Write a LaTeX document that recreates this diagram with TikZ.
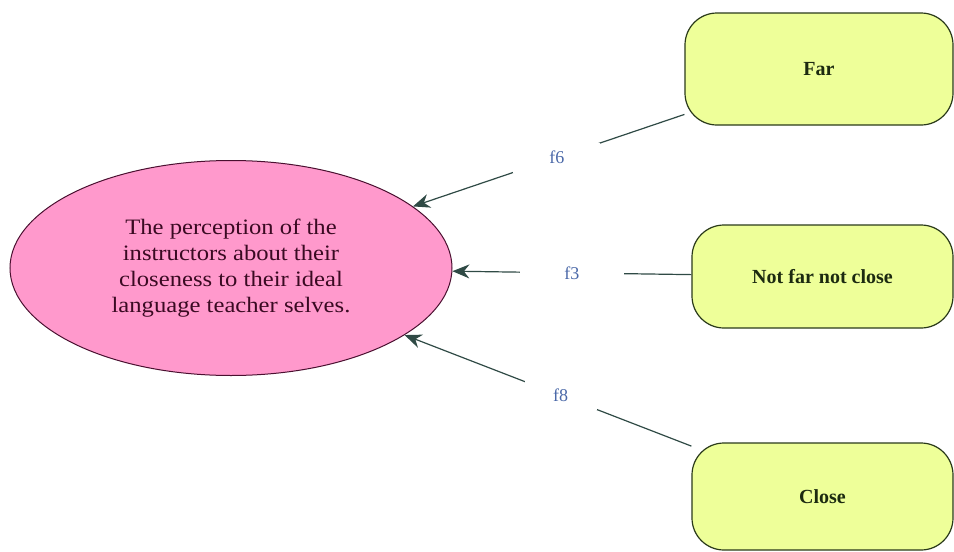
\documentclass[tikz,border=0pt]{standalone}
\usepackage{fontspec}
\setmainfont{Liberation Serif}
\usetikzlibrary{shapes.geometric,arrows.meta}
\definecolor{pinkfill}{HTML}{FF99CC}
\definecolor{pinkline}{HTML}{4A1030}
\definecolor{ellText}{HTML}{3A0A22}
\definecolor{boxfill}{HTML}{EEFF99}
\definecolor{boxline}{HTML}{2A3A1A}
\definecolor{boxtext}{HTML}{1C2A10}
\definecolor{conn}{HTML}{2F4A45}
\definecolor{lbl}{HTML}{4A68A8}
\tikzset{
  choicebox/.style={rectangle, rounded corners=32pt, draw=boxline, line width=1.2pt,
    fill=boxfill, font=\fontsize{20}{23}\selectfont\bfseries, text=boxtext, inner sep=0pt},
  concept/.style={ellipse, draw=pinkline, line width=1pt, fill=pinkfill, inner sep=0pt,
    minimum width=442pt, minimum height=215pt, align=center, text=ellText,
    font=\fontsize{22}{26}\selectfont\addfontfeatures{FakeStretch=1.12}},
  conline/.style={draw=conn, line width=1.2pt, -{Stealth[length=17pt,width=14pt]}},
  flabel/.style={fill=white, text=lbl, font=\fontsize{18}{20}\selectfont, inner sep=0pt,
    minimum height=30pt},
}
\begin{document}
\begin{tikzpicture}[x=1pt,y=-1pt]
\useasboundingbox (0,0) rectangle (954,552);
\node[concept] (ell) at (231,268) {The perception of the\\instructors about their\\closeness to their ideal\\language teacher selves.};
\node[choicebox, minimum width=268pt, minimum height=112pt] (far) at (819,69) {Far};
\node[choicebox, minimum width=261pt, minimum height=103pt] (mid) at (822.5,276.5) {Not far not close};
\node[choicebox, minimum width=261pt, minimum height=107pt] (close) at (822.5,496.5) {Close};
\draw[conline] (far) -- node[flabel, minimum width=87pt, pos=0.47] (l6) {f6\hspace{32pt}} (ell);
\draw[conline] (mid) -- node[flabel, minimum width=104pt, pos=0.5] (l3) {f3} (ell);
\draw[conline] (close) -- node[flabel, minimum width=72pt, pos=0.456] (l8) {f8} (ell);
\end{tikzpicture}
\end{document}
